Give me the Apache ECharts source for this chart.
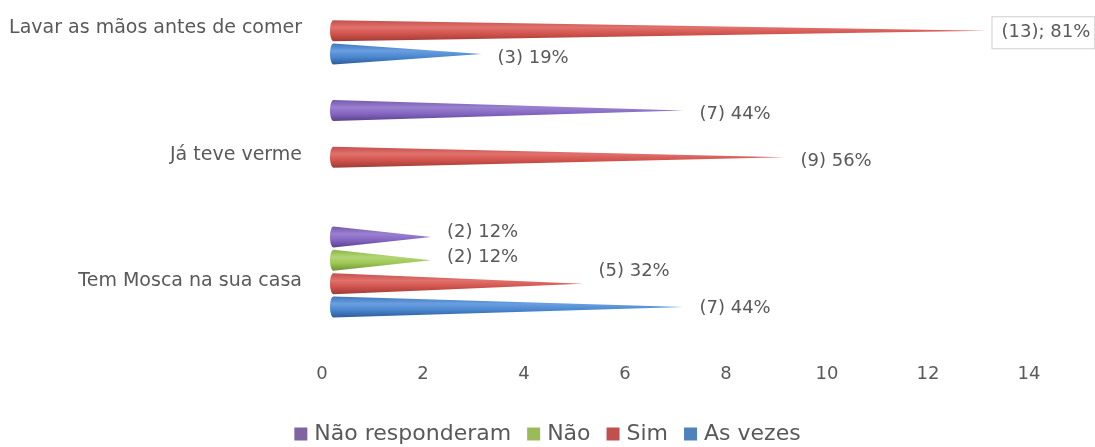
<!DOCTYPE html>
<html>
<head>
<meta charset="utf-8">
<script src="https://cdn.jsdelivr.net/npm/echarts@6/dist/echarts.min.js"></script>
<style>
  html, body { margin: 0; padding: 0; background: #fff; }
  #chart { width: 1095px; height: 447px; }
</style>
</head>
<body>
<div id="chart"></div>
<script>
// Categories, bottom to top on the value chart
const categories = ['Tem Mosca na sua casa', 'Já teve verme', 'Lavar as mãos antes de comer'];
const seriesNames = ['Não responderam', 'Não', 'Sim', 'As vezes'];

// Counts per category (same order as categories)
const naoResponderam = [2, 7, null];
const nao = [2, null, null];
const sim = [5, 9, 13];
const asVezes = [7, null, 3];

// Shares shown next to each count (%)
const pctNaoResponderam = [12, 44, null];
const pctNao = [12, null, null];
const pctSim = [32, 56, 81];
const pctAsVezes = [44, null, 19];

// Value axis
const axisMin = 0;
const axisMax = 14;
const axisStep = 2;

const counts = [naoResponderam, nao, sim, asVezes];
const pcts = [pctNaoResponderam, pctNao, pctSim, pctAsVezes];

// Cone shading per series: [top, highlight, body, shadow]
const palette = [
  ['#7558AE', '#9A80D0', '#8466C2', '#5A428A'],
  ['#8BB445', '#B3D676', '#9CC653', '#6F9035'],
  ['#C64F4A', '#E0716C', '#D2534D', '#9E3B36'],
  ['#3F76BD', '#6A9FE0', '#4A86CF', '#2E5C99']
];
const legendColors = ['#8064A2', '#9BBB59', '#C0504D', '#4F81BD'];

// Small vertical nudges for value labels (px, relative to the cone axis)
const labelNudge = { '0|0': -5, '1|0': -3.5, '2|0': -12.5, '3|0': 1.5 };
const boxedLabel = { '2|2': true };

const TEXT = '#595959';
const FONT = 'DejaVu Sans';

function renderCone(params, api) {
  const v = api.value(0);
  const cat = api.value(1);
  const pct = api.value(2);
  const k = params.seriesIndex;
  const base = api.coord([0, cat]);
  const end = api.coord([v, cat]);
  const slot = 23.3;
  const h = 21;
  const cy = base[1] - 9.5 + (k - 1.5) * slot;
  const x0 = base[0] + 8;
  const x1 = end[0] + 8;
  const rx = 3.5, ry = h / 2;
  const cx = x0 + rx;
  const pts = [[cx, cy - ry], [x1, cy], [cx, cy + ry]];
  for (let i = 1; i < 16; i++) {
    const a = Math.PI / 2 + (Math.PI * i) / 16;
    pts.push([cx + rx * Math.cos(a), cy + ry * Math.sin(a)]);
  }
  const c = palette[k];
  const key = k + '|' + cat;
  const boxed = !!boxedLabel[key];
  const dy = labelNudge[key] !== undefined ? labelNudge[key] : (boxed ? 2 : 4);
  const text = '(' + v + ')' + (boxed ? ';' : '') + ' ' + pct + '%';
  const labelStyle = {
    text: text,
    x: x1 + (boxed ? 6 : 16),
    y: cy + dy,
    fill: TEXT,
    font: '18px "' + FONT + '"',
    align: 'left',
    verticalAlign: 'middle'
  };
  if (boxed) {
    labelStyle.backgroundColor = '#fff';
    labelStyle.borderColor = '#D0D0D0';
    labelStyle.borderWidth = 1;
    labelStyle.padding = [7, 4, 6, 9];
  }
  return {
    type: 'group',
    children: [
      {
        type: 'polygon',
        shape: { points: pts },
        style: {
          fill: new echarts.graphic.LinearGradient(0, 0, 0, 1, [
            { offset: 0, color: c[0] },
            { offset: 0.35, color: c[1] },
            { offset: 0.65, color: c[2] },
            { offset: 1, color: c[3] }
          ])
        }
      },
      { type: 'text', style: labelStyle, z2: 10 }
    ]
  };
}

const series = seriesNames.map(function (name, k) {
  const data = [];
  counts[k].forEach(function (v, i) {
    if (v !== null) data.push([v, i, pcts[k][i]]);
  });
  return {
    name: name,
    type: 'custom',
    renderItem: renderCone,
    encode: { x: 0, y: 1 },
    itemStyle: { color: legendColors[k] },
    clip: false,
    data: data
  };
});

const chart = echarts.init(document.getElementById('chart'), null, { renderer: 'canvas' });
chart.setOption({
  animation: false,
  backgroundColor: '#fff',
  textStyle: { fontFamily: FONT },
  grid: {
    left: 322, width: 707, bottom: 102.25, height: 379.5,
    containLabel: false, outerBoundsMode: 'none'
  },
  xAxis: {
    type: 'value',
    min: axisMin,
    max: axisMax,
    interval: axisStep,
    axisLine: { show: false },
    axisTick: { show: false },
    splitLine: { show: false },
    axisLabel: { color: TEXT, fontSize: 18, fontFamily: FONT, margin: 21 }
  },
  yAxis: {
    type: 'category',
    data: categories,
    axisLine: { show: false },
    axisTick: { show: false },
    splitLine: { show: false },
    axisLabel: { color: TEXT, fontSize: 19, fontFamily: FONT, margin: 20 }
  },
  legend: {
    data: seriesNames,
    top: 423,
    left: 'center',
    padding: 0,
    icon: 'rect',
    itemWidth: 13,
    itemHeight: 13,
    itemGap: 16,
    textStyle: { color: TEXT, fontSize: 22, fontFamily: FONT, padding: [0, 0, 0, 2] }
  },
  series: series
});
</script>
</body>
</html>
